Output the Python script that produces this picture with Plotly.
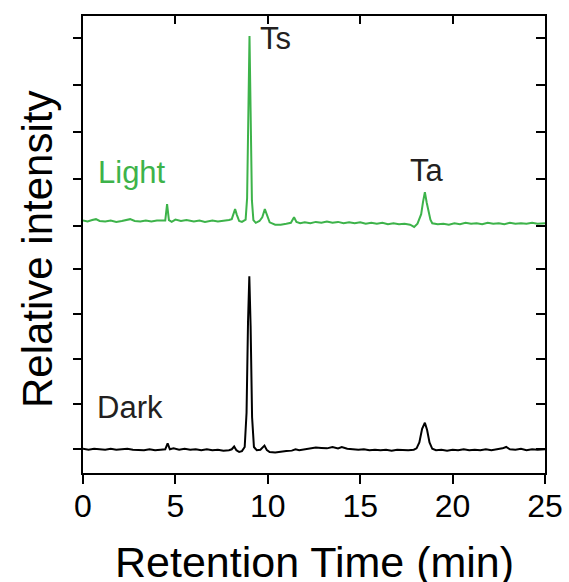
import plotly.graph_objects as go

# retention time (min) and relative intensity
light_time = [0.00, 0.25, 0.50, 0.70, 0.90, 1.20, 1.50, 1.80, 2.10, 2.40, 2.55, 2.80, 3.10, 3.40,
              3.70, 4.00, 4.30, 4.45, 4.55, 4.65, 4.80, 5.00, 5.30, 5.60, 6.00, 6.30, 6.60, 7.00,
              7.30, 7.60, 7.90, 8.05, 8.15, 8.23, 8.32, 8.45, 8.60, 8.72, 8.80, 8.88, 8.95, 9.01,
              9.07, 9.14, 9.22, 9.35, 9.55, 9.70, 9.84, 9.95, 10.10, 10.40, 10.70, 11.00, 11.25,
              11.42, 11.55, 11.75, 12.00, 12.30, 12.60, 12.90, 13.20, 13.50, 13.80, 14.10, 14.40,
              14.70, 15.00, 15.30, 15.60, 15.90, 16.20, 16.50, 16.80, 17.10, 17.40, 17.70, 17.92,
              18.10, 18.20, 18.30, 18.40, 18.50, 18.60, 18.70, 18.80, 18.90, 19.20, 19.50, 19.80,
              20.10, 20.40, 20.70, 21.00, 21.30, 21.60, 21.90, 22.20, 22.50, 22.80, 23.10, 23.40,
              23.70, 24.00, 24.30, 24.60, 25.00]
light_signal = [0.01, -0.01, 0.02, 0.04, 0.00, -0.01, 0.01, -0.02, 0.00, 0.02, 0.04, 0.00, -0.01, 0.01,
                -0.01, 0.01, 0.00, 0.01, 0.37, 0.02, -0.02, 0.03, 0.00, 0.02, -0.01, 0.01, -0.02, 0.01,
                -0.01, 0.00, 0.02, 0.04, 0.16, 0.26, 0.14, 0.00, -0.02, 0.00, 0.03, 0.50, 2.60, 4.05,
                2.40, 0.45, 0.02, -0.04, 0.00, 0.08, 0.26, 0.12, -0.03, -0.08, -0.08, -0.06, -0.04,
                0.08, -0.02, -0.05, -0.03, -0.05, -0.02, -0.04, -0.01, -0.04, -0.02, -0.05, -0.03,
                -0.05, -0.03, -0.06, -0.04, -0.06, -0.04, -0.07, -0.05, -0.07, -0.06, -0.08, -0.13,
                -0.06, 0.03, 0.15, 0.42, 0.63, 0.40, 0.18, 0.03, -0.05, -0.07, -0.06, -0.08,
                -0.05, -0.07, -0.04, -0.06, -0.05, -0.07, -0.04, -0.06, -0.05, -0.07, -0.04, -0.06,
                -0.05, -0.06, -0.04, -0.06, -0.05]

dark_time = [0.00, 0.30, 0.60, 0.90, 1.20, 1.50, 1.80, 2.10, 2.40, 2.70, 3.00, 3.30, 3.60, 3.90,
             4.20, 4.45, 4.58, 4.70, 4.90, 5.20, 5.50, 5.80, 6.10, 6.40, 6.70, 7.00, 7.30, 7.60,
             7.90, 8.05, 8.18, 8.30, 8.45, 8.60, 8.75, 8.85, 8.93, 9.00, 9.07, 9.15, 9.25, 9.40,
             9.60, 9.82, 9.95, 10.10, 10.40, 10.70, 11.00, 11.30, 11.50, 11.70, 12.00, 12.30,
             12.60, 12.90, 13.20, 13.50, 13.80, 14.00, 14.30, 14.60, 14.90, 15.20, 15.50, 15.80,
             16.10, 16.40, 16.70, 17.00, 17.30, 17.60, 17.90, 18.05, 18.20, 18.35, 18.50, 18.62,
             18.75, 18.90, 19.10, 19.40, 19.70, 20.00, 20.30, 20.60, 20.90, 21.20, 21.50, 21.80,
             22.10, 22.40, 22.70, 22.90, 23.10, 23.40, 23.70, 24.00, 24.30, 24.60, 25.00]
dark_signal = [0.01, -0.01, 0.01, 0.00, -0.01, 0.01, -0.01, 0.00, 0.01, -0.01, -0.01, -0.02, 0.00, -0.02,
               -0.01, 0.00, 0.13, 0.00, 0.02, -0.01, 0.01, -0.01, 0.00, -0.02, 0.00, -0.02, -0.01, -0.03,
               -0.02, 0.00, 0.06, -0.02, -0.06, -0.04, 0.05, 0.80, 2.80, 3.79, 2.70, 0.70, 0.05, -0.02,
               -0.01, 0.08, -0.02, -0.06, -0.07, -0.05, -0.04, -0.03, 0.00, -0.02, 0.00, 0.03,
               0.04, 0.03, 0.02, 0.05, 0.02, 0.05, 0.01, 0.00, -0.01, 0.00, -0.02, -0.01,
               -0.02, -0.01, -0.03, -0.01, -0.02, -0.02, -0.01, 0.02, 0.15, 0.45, 0.58, 0.42,
               0.15, 0.01, -0.02, -0.01, -0.03, -0.01, -0.02, 0.00, -0.02, -0.01, -0.02, 0.00,
               -0.02, 0.00, 0.02, 0.05, 0.00, -0.01, 0.01, -0.02, 0.00, -0.01, 0.00]

# vertical stacking of the two traces
light_offset = 5.0
dark_offset = 0.0

x_ticks = [0, 5, 10, 15, 20, 25]
y_ticks = [0, 0.985, 1.97, 2.96, 3.94, 4.88, 5.91, 6.94, 7.97, 9.0]

green = '#3db34a'
text_color = '#231f20'
font_name = 'Liberation Sans, Arial, sans-serif'

fig = go.Figure()

fig.add_trace(go.Scatter(x=dark_time, y=[v + dark_offset for v in dark_signal], mode='lines',
                         line=dict(color='black', width=2), name='Dark'))
fig.add_trace(go.Scatter(x=light_time, y=[v + light_offset for v in light_signal], mode='lines',
                         line=dict(color=green, width=2), name='Light'))

# empty trace so the top/right axes (inside ticks) get drawn
fig.add_trace(go.Scatter(x=[], y=[], xaxis='x2', yaxis='y2', showlegend=False, hoverinfo='skip'))

# peak / trace labels
fig.add_annotation(x=0.69, y=6.07, text='Light', showarrow=False, xanchor='left', yanchor='middle',
                   font=dict(size=31, color=green, family=font_name))
fig.add_annotation(x=0.63, y=0.91, text='Dark', showarrow=False, xanchor='left', yanchor='middle',
                   font=dict(size=31, color=text_color, family=font_name))
fig.add_annotation(x=9.45, y=8.99, text='Ts', showarrow=False, xanchor='left', yanchor='middle',
                   font=dict(size=31, color=text_color, family=font_name))
fig.add_annotation(x=17.56, y=6.10, text='Ta', showarrow=False, xanchor='left', yanchor='middle',
                   font=dict(size=31, color=text_color, family=font_name))

# axis titles placed as paper annotations
fig.add_annotation(x=0.5, y=-0.195, xref='paper', yref='paper', text='Retention Time (min)',
                   showarrow=False, xanchor='center', yanchor='middle',
                   font=dict(size=43, color='black', family=font_name))
fig.add_annotation(x=-0.0996, y=0.49, xref='paper', yref='paper', text='Relative intensity',
                   showarrow=False, xanchor='center', yanchor='middle', textangle=-90,
                   font=dict(size=42, color='black', family=font_name))

y_range = [-0.52, 9.49]

fig.update_layout(
    width=569, height=582,
    margin=dict(l=83, r=24, t=16, b=109),
    plot_bgcolor='white', paper_bgcolor='white',
    showlegend=False,
    font=dict(family=font_name, color='black'),
    xaxis=dict(range=[0, 25], tickvals=x_ticks, ticks='outside', ticklen=9, tickwidth=2,
               tickcolor='black', showline=True, linecolor='black', linewidth=2, mirror=True,
               showgrid=False, zeroline=False, tickfont=dict(size=32, color='black'),
               ticklabelstandoff=-5, automargin=False),
    yaxis=dict(range=y_range, tickvals=y_ticks, ticks='outside', ticklen=8, tickwidth=2,
               tickcolor='black', showline=True, linecolor='black', linewidth=2, mirror=True,
               showgrid=False, zeroline=False, showticklabels=False, automargin=False),
    xaxis2=dict(range=[0, 25], tickvals=x_ticks, overlaying='x', side='top', anchor='y',
                ticks='inside', ticklen=8, tickwidth=2, tickcolor='black', automargin=False,
                showticklabels=False, showgrid=False, zeroline=False, showline=False),
    yaxis2=dict(range=y_range, tickvals=y_ticks, overlaying='y', side='right', anchor='x',
                ticks='inside', ticklen=9, tickwidth=2, tickcolor='black', automargin=False,
                showticklabels=False, showgrid=False, zeroline=False, showline=False),
)

# drop the default page margin so the figure sits at the window's top-left corner
fig.write_html("out.html", config={'displayModeBar': False},
               post_script="document.body.style.margin='0';")
